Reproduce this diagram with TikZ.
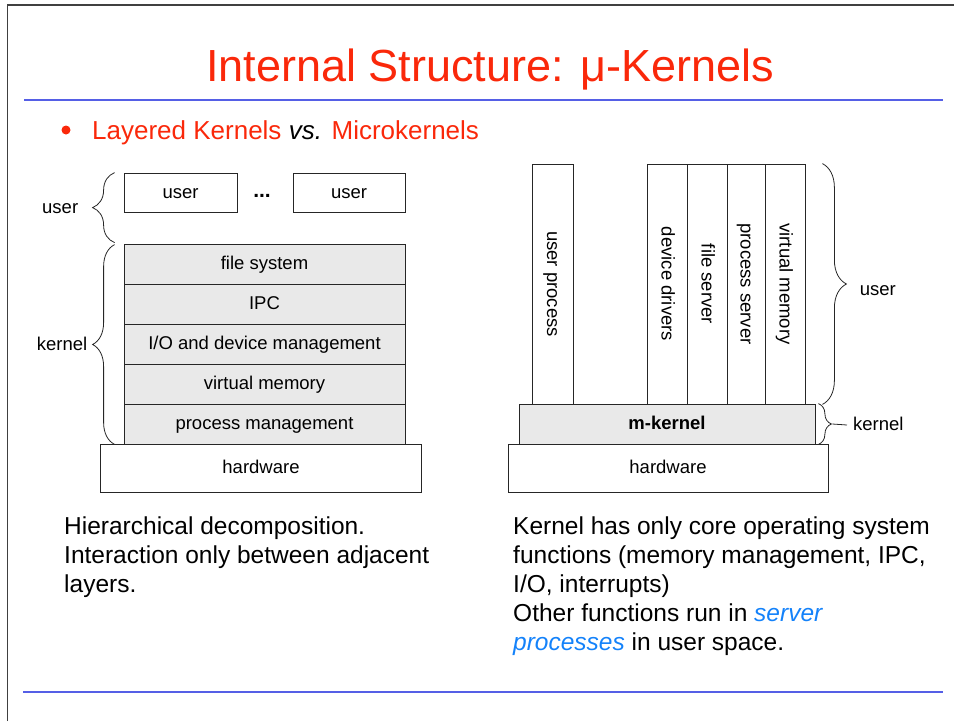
\documentclass[tikz,border=0pt]{standalone}
\usepackage{fontspec}
\setmainfont{Liberation Sans}
\usetikzlibrary{decorations.pathreplacing}
\definecolor{titlered}{RGB}{250,40,10}
\definecolor{ruleblue}{RGB}{85,95,230}
\definecolor{linkblue}{RGB}{20,130,250}
\definecolor{layergray}{RGB}{233,233,233}
\newcommand\diagfont{\fontsize{18.5}{22}\selectfont}
\newcommand\notefont{\fontsize{24.5}{29}\selectfont}

\begin{document}
\begin{tikzpicture}
[x=1pt,y=-1pt,
  every node/.style={inner sep=0pt},
  box/.style={draw=black!85,line width=0.8pt,fill=white,font=\diagfont,
    text height=14pt,text depth=3pt,minimum height=40pt},
  layer/.style={box,fill=layergray,minimum width=281pt},
  base/.style={box,minimum width=320pt,minimum height=48pt},
  column/.style={box,rotate=-90,minimum width=240pt},
  lbl/.style={font=\diagfont,text height=14pt,text depth=3pt},
  note/.style={font=\notefont,align=left,anchor=north west},
  brc/.style={decorate,decoration={brace,amplitude=22pt},
    draw=black!85,line width=0.8pt},
  rule/.style={ruleblue,line width=2.2pt}]
\useasboundingbox (0,0) rectangle (954,721);
\draw[black!75,line width=1.4pt] (7.5,721) -- (7.5,5) -- (954,5);

\node[font=\fontsize{45}{50}\selectfont,text=titlered,anchor=base] (title)
  at (490,81) {Internal Structure: μ-Kernels};
\draw[rule] (24,100) -- (943,100);
\node[circle,fill=titlered,minimum size=9pt] (bullet) at (66,130) {};
\node[font=\fontsize{26}{30}\selectfont,text=titlered,anchor=base west] (sub)
  at (92,139) {Layered Kernels \textcolor{black}{\textit{vs.}} Microkernels};

\node[box,minimum width=113pt,minimum height=39pt] (u1) at (180.5,192.5) {user};
\node[box,minimum width=112pt,minimum height=39pt] (u2) at (349,192.5) {user};
\node[font=\fontsize{21}{24}\selectfont,anchor=base] (dots) at (262,197) {\textbf{...}};
\node[layer] (fs) at (264.5,264) {file system};
\node[layer] (ipc) at (264.5,304) {IPC};
\node[layer] (io) at (264.5,344) {I/O and device management};
\node[layer] (vm) at (264.5,384) {virtual memory};
\node[layer] (pm) at (264.5,424) {process management};
\node[base,minimum width=321pt] (hwL) at (261,468) {hardware};
\draw[brc] ([xshift=-9pt,yshift=1pt]fs.north west) -- ([xshift=-9pt]u1.north west)
  node[lbl,midway,left=36pt] {user};
\draw[brc] ([xshift=-9pt]pm.south west) -- ([xshift=-9pt,yshift=-1pt]fs.north west)
  node[lbl,midway,left=27pt] {kernel};

\node[column,minimum height=41pt] (up) at (552.5,284) {user process};
\node[column] (dd) at (667,284) {device drivers};
\node[column] (fsrv) at (707,284) {file server};
\node[column,minimum height=38pt] (psrv) at (746,284) {process server};
\node[column] (vmem) at (785,284) {virtual memory};
\node[box,fill=layergray,minimum width=296pt] (mk) at (667,424) {\textbf{m-kernel}};
\node[base] (hwR) at (668,468) {hardware};
\draw[brc,decoration={amplitude=24pt}] ([xshift=17pt]vmem.north west) -- ([xshift=17pt]vmem.north east)
  node[lbl,midway,right=37pt,yshift=-6pt] {user};
\draw[brc,decoration={amplitude=13pt}] ([xshift=3pt]mk.north east) -- ([xshift=3pt]mk.south east)
  coordinate[midway,xshift=14pt] (ktip);
\node[lbl,anchor=west] (kR) at (853,425) {kernel};
\draw[draw=black!85,line width=0.8pt] (ktip) -- ([xshift=-6pt]kR.west);

\node[note] (leftnote) at (64,517) {Hierarchical decomposition.\\
  Interaction only between adjacent\\layers.};
\node[note] (rightnote) at (513,517) {Kernel has only core operating system\\
  functions (memory management, IPC,\\I/O, interrupts)\\
  Other functions run in \textcolor{linkblue}{\textit{server}}\\
  \textcolor{linkblue}{\textit{processes}} in user space.};
\draw[rule] (23,692) -- (943,692);
\end{tikzpicture}
\end{document}
